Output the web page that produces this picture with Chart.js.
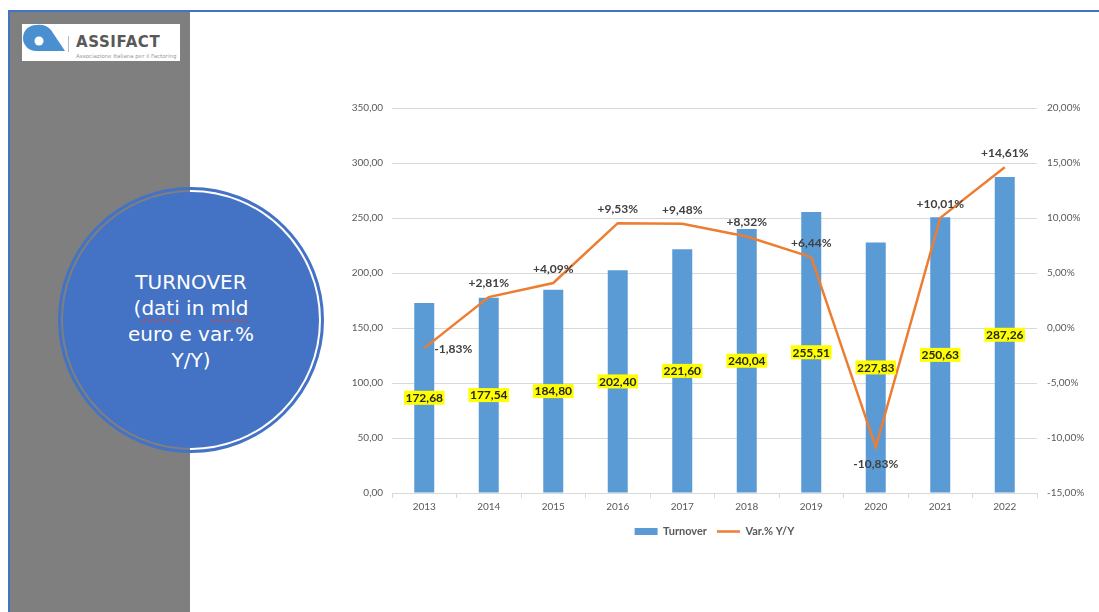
<!DOCTYPE html>
<html>
<head>
<meta charset="utf-8">
<script src="https://cdn.jsdelivr.net/npm/chart.js@4.4.1/dist/chart.umd.min.js"></script>
<style>
  html, body { margin: 0; padding: 0; background: #fff; }
  body { width: 1099px; height: 612px; position: relative; overflow: hidden; }
  .frame { position: absolute; left: 8px; top: 10px; right: 0; bottom: 0; border-top: 2px solid #4472C4; border-left: 2px solid #4472C4; }
  .side { position: absolute; left: 10px; top: 12px; width: 180px; bottom: 0; background: #7F7F7F; }
  .logo { position: absolute; left: 22px; top: 24px; width: 158px; height: 37px; background: #fff; }
  .logo .sep { position: absolute; left: 46px; top: 12px; width: 1px; height: 16px; background: #bbb; }
  .logo .name { position: absolute; left: 54px; top: 9px; font: bold 15px "DejaVu Sans", sans-serif; color: #595959; letter-spacing: 0.6px; }
  .logo .sub { position: absolute; left: 54px; top: 29px; font: 5.5px "DejaVu Sans", sans-serif; color: #999; white-space: nowrap; }
  .ring { position: absolute; left: 58px; top: 187px; width: 260px; height: 260px; border: 3px solid #4472C4; border-radius: 50%; }
  .disc { position: absolute; left: 63px; top: 192px; width: 256px; height: 256px; border-radius: 50%; background: #4472C4;
          display: flex; align-items: center; justify-content: center; }
  .disc div { color: #fff; font: 20px "DejaVu Sans", sans-serif; line-height: 26px; text-align: center; margin-top: 2px; }
  .wavy { text-decoration-line: underline; text-decoration-style: wavy; text-decoration-color: #d04040;
          text-decoration-thickness: 1px; text-underline-offset: 3px; }
  #chart { position: absolute; left: 330px; top: 90px; }
</style>
</head>
<body>
<div class="frame"></div>
<div class="side"></div>
<div class="logo">
  <svg width="46" height="37" style="position:absolute;left:0;top:0">
    <circle cx="14" cy="14" r="13" fill="#4A90D0"/>
    <path d="M14 1 Q24 0 29 6 L43 27 L14 27 Z" fill="#4A90D0"/>
    <circle cx="17" cy="17" r="4.5" fill="#fff"/>
  </svg>
  <div class="sep"></div>
  <div class="name">ASSIFACT</div>
  <div class="sub">Associazione Italiana per il Factoring</div>
</div>
<div class="ring"></div>
<div class="disc"><div>TURNOVER<br>(<span class="wavy">dati</span> in <span class="wavy">mld</span><br>euro e var.%<br>Y/Y)</div></div>
<canvas id="chart" width="769" height="457"></canvas>
<script>
const years = ["2013", "2014", "2015", "2016", "2017", "2018", "2019", "2020", "2021", "2022"];
const turnover = [172.68, 177.54, 184.80, 202.40, 221.60, 240.04, 255.51, 227.83, 250.63, 287.26];
const varPct = [-1.83, 2.81, 4.09, 9.53, 9.48, 8.32, 6.44, -10.83, 10.01, 14.61];

function comma(v) {
  return v.toFixed(2).replace(".", ",");
}

// yellow boxes on the bars, percentages next to the line
const valueLabels = {
  id: "valueLabels",
  afterDatasetsDraw(chart, args, opts) {
    const ctx = chart.ctx;
    ctx.save();
    ctx.font = "bold 12px Lato, sans-serif";
    ctx.textAlign = "center";
    ctx.textBaseline = "middle";

    chart.getDatasetMeta(0).data.forEach((bar, i) => {
      const txt = comma(turnover[i]);
      const y = (bar.y + bar.base) / 2;
      const w = ctx.measureText(txt).width + 3;
      ctx.fillStyle = "#FFFF00";
      ctx.fillRect(bar.x - w / 2, y - 7, w, 14);
      ctx.fillStyle = "#262626";
      ctx.fillText(txt, bar.x, y + 0.5);
    });

    ctx.fillStyle = "#404040";
    chart.getDatasetMeta(1).data.forEach((pt, i) => {
      const v = varPct[i];
      const txt = (v > 0 ? "+" : "") + comma(v) + "%";
      const where = opts.place[i] || "above";
      if (where === "right") {
        ctx.textAlign = "left";
        ctx.fillText(txt, pt.x + 10, pt.y + 1);
      } else if (where === "below") {
        ctx.textAlign = "center";
        ctx.fillText(txt, pt.x, pt.y + 17);
      } else {
        ctx.textAlign = "center";
        ctx.fillText(txt, pt.x, pt.y - 14);
      }
    });
    ctx.restore();
  }
};

Chart.defaults.font.family = "Lato, 'Open Sans', sans-serif";
Chart.defaults.color = "#595959";

new Chart(document.getElementById("chart"), {
  type: "bar",
  data: {
    labels: years,
    datasets: [
      {
        label: "Turnover",
        data: turnover,
        backgroundColor: "#5B9BD5",
        borderWidth: 0,
        barPercentage: 0.62,
        categoryPercentage: 0.5,
        yAxisID: "y",
        order: 1
      },
      {
        type: "line",
        label: "Var.% Y/Y",
        data: varPct,
        borderColor: "#ED7D31",
        backgroundColor: "#ED7D31",
        borderWidth: 2.5,
        pointRadius: 0,
        tension: 0,
        yAxisID: "y1",
        order: 0
      }
    ]
  },
  options: {
    responsive: false,
    animation: false,
    layout: { padding: { top: 18, bottom: 0 } },
    scales: {
      x: {
        grid: { display: true, drawOnChartArea: false, offset: true, tickLength: 5, color: "#D9D9D9" },
        border: { color: "#D9D9D9" },
        ticks: { font: { size: 10 }, padding: 3 }
      },
      y: {
        position: "left",
        min: 0,
        max: 350,
        ticks: { stepSize: 50, font: { size: 10 }, padding: 9, callback: (v) => comma(v) },
        grid: { color: "#D9D9D9", drawTicks: false },
        border: { display: false },
        afterFit: (s) => { s.width = 62; }
      },
      y1: {
        position: "right",
        min: -15,
        max: 20,
        ticks: { stepSize: 5, font: { size: 10 }, padding: 10, callback: (v) => comma(v) + "%" },
        grid: { drawOnChartArea: false, drawTicks: false },
        border: { display: false },
        afterFit: (s) => { s.width = 62; }
      }
    },
    plugins: {
      legend: {
        position: "bottom",
        labels: {
          usePointStyle: true,
          pointStyleWidth: 23,
          boxWidth: 23,
          boxHeight: 7,
          padding: 10,
          color: "#595959",
          font: { size: 11, weight: "bold" },
          sort: (a, b) => a.datasetIndex - b.datasetIndex,
          generateLabels: (chart) => {
            const items = Chart.defaults.plugins.legend.labels.generateLabels(chart);
            items.forEach((it) => {
              it.pointStyle = it.datasetIndex === 0 ? "rect" : "line";
              if (it.datasetIndex === 0) it.lineWidth = 0;
            });
            return items;
          }
        }
      },
      tooltip: { enabled: false },
      valueLabels: { place: { 0: "right", 7: "below" } }
    }
  },
  plugins: [valueLabels]
});
</script>
</body>
</html>
